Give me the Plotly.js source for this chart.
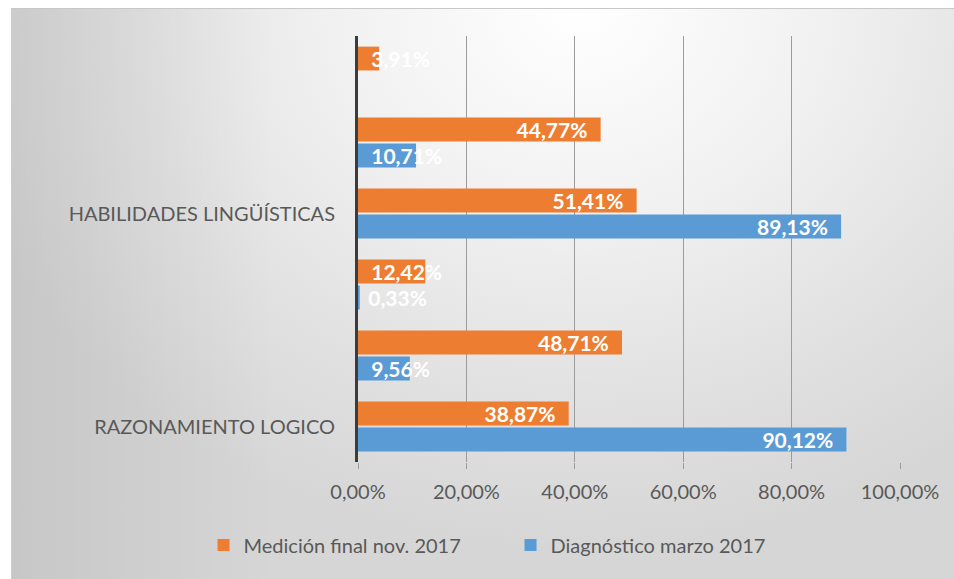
<!DOCTYPE html>
<html><head><meta charset="utf-8">
<script src="https://cdn.plot.ly/plotly-3.0.1.min.js"></script>
<style>
html,body{margin:0;padding:0;background:#ffffff;}
#wrap{position:relative;width:954px;height:579px;overflow:hidden;}
#bg{position:absolute;left:11px;top:8px;width:943px;height:571px;
  background:
    linear-gradient(to right, rgba(0,0,0,0.07) 0%, rgba(0,0,0,0) 28%),
    radial-gradient(ellipse 68% 95% at 60% 0%, #ffffff 0%, #f1f1f1 38%, #e1e1e1 72%, #d6d6d6 100%);
  border-top:1px solid #c8c8c8;border-left:1px solid #cccccc;}
#chart{position:absolute;left:0;top:0;width:954px;height:579px;}
</style></head><body>
<div id="wrap"><div id="bg"></div><div id="chart"></div></div>
<script>
// Categories from bottom to top
const categories = ["RAZONAMIENTO LOGICO", "", "", "HABILIDADES LINGÜÍSTICAS", "", ""];
const seriesNames = ["Diagnóstico marzo 2017", "Medición final nov. 2017"];
const diagnostico = [90.12, 9.56, 0.33, 89.13, 10.71, 0];
const medicionFinal = [38.87, 48.71, 12.42, 51.41, 44.77, 3.91];
const xTickVals = [0, 20, 40, 60, 80, 100];

const colors = {diag: "#5B9BD5", med: "#ED7D31"};
const pos = categories.map((c, i) => i);
const fmt = v => v.toFixed(2).replace(".", ",") + "%";
const PAD = "\u00a0\u00a0";
const longText = vals => vals.map(v => v >= 20 ? fmt(v) + PAD : "");
const shortText = vals => vals.map(v => (v > 0 && v < 20) ? PAD + fmt(v) : "");

const labelFont = {family: "Lato, sans-serif", size: 21, color: "#ffffff", weight: "bold"};

function barTrace(name, vals, color, group) {
  return {
    type: "bar", orientation: "h", name: name, x: vals, y: pos,
    marker: {color: color}, offsetgroup: group,
    text: longText(vals), textposition: "inside", insidetextanchor: "end",
    textangle: 0, constraintext: "none", textfont: labelFont,
    hoverinfo: "skip"
  };
}
function shortLabelTrace(vals, group) {
  return {
    type: "bar", orientation: "h", x: vals, y: pos, showlegend: false,
    marker: {color: "rgba(0,0,0,0)"}, offsetgroup: group,
    text: shortText(vals), textposition: "inside", insidetextanchor: "start",
    textangle: 0, constraintext: "none", textfont: labelFont,
    hoverinfo: "skip"
  };
}

const data = [
  barTrace(seriesNames[0], diagnostico, colors.diag, "d"),
  barTrace(seriesNames[1], medicionFinal, colors.med, "m"),
  shortLabelTrace(diagnostico, "d"),
  shortLabelTrace(medicionFinal, "m")
];

const tickFont = {family: "Lato, sans-serif", size: 20, color: "#595959"};

const layout = {
  width: 954, height: 579,
  paper_bgcolor: "rgba(0,0,0,0)", plot_bgcolor: "rgba(0,0,0,0)",
  margin: {l: 358, r: 54, t: 36, b: 117},
  barmode: "group", bargap: 0.27, bargroupgap: 0.08,
  showlegend: true,
  legend: {
    orientation: "h", traceorder: "reversed",
    xref: "paper", yref: "paper",
    x: -0.285, xanchor: "left", y: -0.195, yanchor: "middle",
    entrywidth: 262, entrywidthmode: "pixels",
    font: tickFont, bgcolor: "rgba(0,0,0,0)"
  },
  xaxis: {
    range: [0, 100], tickmode: "array", tickvals: xTickVals, ticktext: xTickVals.map(fmt),
    showgrid: true, gridcolor: "#9c9c9c", gridwidth: 1,
    zeroline: false, showline: false,
    ticks: "outside", ticklen: 6, tickcolor: "#9c9c9c",
    tickfont: tickFont, ticklabelstandoff: 6, fixedrange: true
  },
  yaxis: {
    range: [-0.5, categories.length - 0.5],
    tickmode: "array", tickvals: pos, ticktext: categories,
    showgrid: false, zeroline: false,
    showline: true, linecolor: "#3c3c3c", linewidth: 3,
    ticks: "", tickfont: tickFont, ticklabelstandoff: 16, fixedrange: true
  }
};

Plotly.newPlot("chart", data, layout, {displayModeBar: false, staticPlot: true});
</script>
</body></html>
